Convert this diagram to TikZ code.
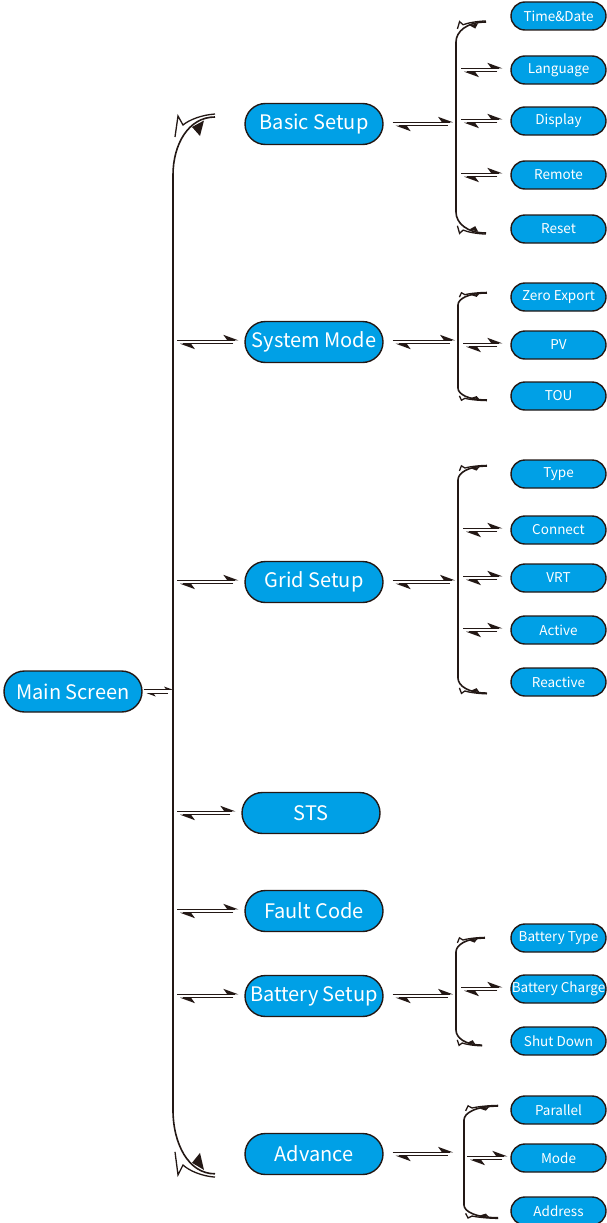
\documentclass[tikz,border=0pt]{standalone}
\usepackage{fontspec}
\setmainfont{Noto Sans CJK SC}
\usetikzlibrary{calc}
\definecolor{nodeblue}{HTML}{00A0E6}
\definecolor{ink}{HTML}{231815}
\tikzset{
  pill/.style={draw=ink, line width=1.4pt, fill=nodeblue, text=white, rounded corners=#1, inner sep=0pt},
  big/.style={pill=20.5pt, minimum width=138pt, minimum height=41pt, font=\fontsize{20}{22}\selectfont},
  small/.style={pill=14pt, minimum width=95pt, minimum height=28pt, font=\fontsize{13.5}{15}\selectfont},
  eqline/.style={draw=ink, line width=1.3pt},
  spine/.style={draw=ink, line width=1.8pt},
  brk/.style={draw=ink, line width=1.5pt},
  pics/hook/.style={code={
    \draw[ink, line width=1.6pt] (0,0) .. controls (0,-30) and (15,-58) .. (42,-58);
    \draw[ink, line width=1.3pt, line join=miter] (42,-61) .. controls (28,-60) and (16,-55) .. (10,-50) -- (5,-59) -- (2,-38);
    \fill[ink] (19,-48) -- (31,-54.5) -- (27,-39) -- cycle;
  }}
}
% #1 scale of barbs, #2 left end, #3 right end
\newcommand\eqarr[3][1]{%
  \draw[eqline] ($(#2)+(0,-1.7)$) -- ($(#3)+(-3,-1.7)$);
  \fill[ink] ($(#3)+(0,-1.7)$) -- ($(#3)+(-15*#1,-1.7-5.5*#1)$) -- ($(#3)+(-11*#1,-1.7)$) -- cycle;
  \draw[eqline] ($(#3)+(-5,1.7)$) -- ($(#2)+(6,1.7)$);
  \fill[ink] ($(#2)+(3,1.7)$) -- ($(#2)+(3+15*#1,1.7+5.5*#1)$) -- ($(#2)+(3+11*#1,1.7)$) -- cycle;
}
\begin{document}
\begin{tikzpicture}[x=1pt,y=-1pt]
\useasboundingbox (0,0) rectangle (607,1223);
% main and level-1 nodes
\node[big] (ms)  at (73,691.5) {Main Screen};
\node[big] (bs)  at (314,124)  {Basic Setup};
\node[big] (sm)  at (314,342)  {System Mode};
\node[big] (gs)  at (314,582)  {Grid Setup};
\node[big] (sts) at (311,813)  {STS};
\node[big] (fc)  at (314,911)  {Fault Code};
\node[big] (bat) at (314,996)  {Battery Setup};
\node[big] (adv) at (314,1154) {Advance};
% level-2 nodes
\node[small] (td)  at (558.5,16)  {Time\&Date};
\node[small] (lng) at (558.5,70)  {Language};
\node[small] (dsp) at (558.5,121) {Display};
\node[small] (rem) at (558.5,175) {Remote};
\node[small] (rst) at (558.5,229) {Reset};
\node[small] (ze)  at (558.5,297) {Zero Export};
\node[small] (pv)  at (558.5,345) {PV};
\node[small] (tou) at (558.5,396) {TOU};
\node[small] (typ) at (558.5,474) {Type};
\node[small] (con) at (558.5,530) {Connect};
\node[small] (vrt) at (558.5,578) {VRT};
\node[small] (act) at (558.5,630) {Active};
\node[small] (rea) at (558.5,682) {Reactive};
\node[small] (bty) at (558.5,938) {Battery Type};
\node[small] (bch) at (558.5,989) {Battery Charge};
\node[small] (sd)  at (558.5,1041) {Shut Down};
\node[small] (par) at (558.5,1110) {Parallel};
\node[small] (mod) at (558.5,1158) {Mode};
\node[small] (adr) at (558.5,1211) {Address};

% main trunk
\coordinate (ttop) at (173,175);
\coordinate (tbot) at (173,1110);
\draw[spine] (ttop) -- (tbot);
\pic at (ttop) {hook};
\pic[yscale=-1.1] at (tbot) {hook};

% main screen to trunk
\coordinate (s-ms) at ([xshift=1pt]ms.east);
\coordinate (e-ms) at (ms.east -| ttop);
\eqarr[0.6]{s-ms}{e-ms}

% trunk to level-1
\foreach \n in {sm,gs,sts,fc,bat}{
  \coordinate (s-\n) at ([xshift=4pt]\n.west -| ttop);
  \coordinate (e-\n) at ([xshift=-6pt]\n.west);
  \eqarr{s-\n}{e-\n}
}

% brackets
\coordinate (b1t) at (456,42);   \coordinate (b1b) at (456,212);
\coordinate (b2t) at (458,305);  \coordinate (b2b) at (458,388);
\coordinate (b3t) at (458,480);  \coordinate (b3b) at (458,678);
\coordinate (b4t) at (456,952);  \coordinate (b4b) at (456,1030);
\coordinate (b5t) at (464,1120); \coordinate (b5b) at (464,1205);
\foreach \b in {b1,b2,b3,b4,b5}{ \draw[brk] (\b t) -- (\b b); }
\pic[xscale=0.714,yscale=0.345] at (b1t) {hook};
\pic[xscale=0.714,yscale=-0.362] at (b1b) {hook};
\pic[xscale=0.69,yscale=0.207] at (b2t) {hook};
\pic[xscale=0.69,yscale=-0.207] at (b2b) {hook};
\pic[xscale=0.69,yscale=0.24] at (b3t) {hook};
\pic[xscale=0.69,yscale=-0.26] at (b3b) {hook};
\pic[xscale=0.69,yscale=0.24] at (b4t) {hook};
\pic[xscale=0.62,yscale=-0.26] at (b4b) {hook};
\pic[xscale=0.81,yscale=0.24] at (b5t) {hook};
\pic[xscale=0.81,yscale=-0.22] at (b5b) {hook};

% level-1 to brackets
\foreach \n/\b in {bs/b1,sm/b2,gs/b3,bat/b4}{
  \coordinate (p-\n) at ([xshift=9pt]\n.east);
  \coordinate (q-\n) at ([xshift=-3pt]\n.east -| \b t);
  \eqarr{p-\n}{q-\n}
}
\coordinate (p-adv) at ([xshift=9pt]adv.east);
\coordinate (q-adv) at ([xshift=-11pt]adv.east -| b5t);
\eqarr{p-adv}{q-adv}
% brackets to level-2
\foreach \n/\b in {lng/b1,dsp/b1,rem/b1,pv/b2,con/b3,vrt/b3,act/b3,bch/b4}{
  \coordinate (u-\n) at ([xshift=5pt]\n.west -| \b t);
  \coordinate (v-\n) at ([xshift=-8pt]\n.west);
  \eqarr{u-\n}{v-\n}
}
\coordinate (u-mod) at ([xshift=3pt]mod.west -| b5t);
\coordinate (v-mod) at ([xshift=-3pt]mod.west);
\eqarr{u-mod}{v-mod}
\end{tikzpicture}
\end{document}
